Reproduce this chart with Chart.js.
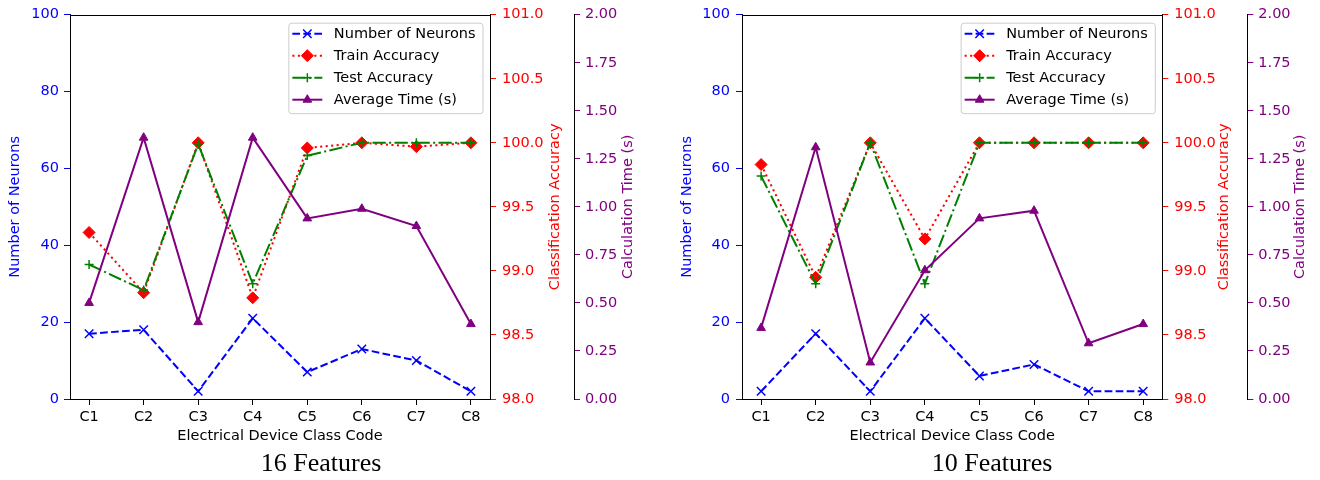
<!DOCTYPE html>
<html>
<head>
<meta charset="utf-8">
<script src="https://cdn.jsdelivr.net/npm/chart.js@4.4.1/dist/chart.umd.min.js"></script>
<style>
  html, body { margin: 0; padding: 0; background: #fff; }
  #wrap { position: relative; width: 1320px; height: 480px; overflow: hidden; }
  .panel { position: absolute; top: 0; width: 660px; height: 480px; }
  .caption { position: absolute; top: 450px; width: 200px; text-align: center;
             font: 26px/26px "Liberation Serif", "Times New Roman", serif; color: #000; }
</style>
</head>
<body>
<div id="wrap">
  <div class="panel" style="left:0"><canvas id="chart16" width="660" height="480"></canvas></div>
  <div class="panel" style="left:660px"><canvas id="chart10" width="660" height="480"></canvas></div>
  <div class="caption" style="left:221px">16 Features</div>
  <div class="caption" style="left:892px">10 Features</div>
</div>
<script>
// class codes on the x axis
const categories = ["C1", "C2", "C3", "C4", "C5", "C6", "C7", "C8"];

// 16 features panel
const neurons16 = [17, 18, 2, 21, 7, 13, 10, 2];
const trainAcc16 = [99.3, 98.83, 100, 98.79, 99.96, 100, 99.97, 100];
const testAcc16 = [99.05, 98.85, 99.99, 98.9, 99.9, 100, 100, 100];
const avgTime16 = [0.5, 1.36, 0.4, 1.36, 0.94, 0.99, 0.9, 0.39];

// 10 features panel
const neurons10 = [2, 17, 2, 21, 6, 9, 2, 2];
const trainAcc10 = [99.83, 98.95, 100, 99.25, 100, 100, 100, 100];
const testAcc10 = [99.74, 98.9, 100, 98.9, 100, 100, 100, 100];
const avgTime10 = [0.37, 1.31, 0.19, 0.67, 0.94, 0.98, 0.29, 0.39];

// axis ranges
const neuronRange = { min: 0, max: 100, step: 20 };
const accuracyRange = { min: 98, max: 101, step: 0.5 };
const timeRange = { min: 0, max: 2, step: 0.25 };

const FONT = '"DejaVu Sans", sans-serif';
Chart.defaults.font.family = FONT;
Chart.defaults.font.size = 14.5;

const toPoints = (values) => values.map((v, i) => ({ x: i, y: v }));

// top spine of the plot box
const topSpine = {
  id: "topSpine",
  afterDraw(chart) {
    const { ctx, chartArea } = chart;
    ctx.save();
    ctx.strokeStyle = "black";
    ctx.lineWidth = 1;
    const y = Math.round(chartArea.top) + 0.5;
    ctx.beginPath();
    ctx.moveTo(chartArea.left, y);
    ctx.lineTo(chartArea.right, y);
    ctx.stroke();
    ctx.restore();
  },
};

// right axis titles, read bottom to top like matplotlib
const sideTitles = {
  id: "sideTitles",
  afterDraw(chart, args, opts) {
    const { ctx, chartArea } = chart;
    (opts.items || []).forEach((t) => {
      const s = chart.scales[t.axis];
      ctx.save();
      ctx.translate(s.right - t.offset, (chartArea.top + chartArea.bottom) / 2);
      ctx.rotate(-Math.PI / 2);
      ctx.font = "14.5px " + FONT;
      ctx.fillStyle = t.color;
      ctx.textAlign = "center";
      ctx.textBaseline = "middle";
      ctx.fillText(t.text, 0, 0);
      ctx.restore();
    });
  },
};

// matplotlib style legend: line sample with marker in the middle
const lineLegend = {
  id: "lineLegend",
  afterDraw(chart) {
    const { ctx, chartArea } = chart;
    const sets = chart.data.datasets;
    ctx.save();
    ctx.font = "14.5px " + FONT;
    const textW = Math.max(...sets.map((d) => ctx.measureText(d.label).width));
    const rowH = 22;
    const boxW = 4 + 30 + 11.5 + textW + 7;
    const boxH = 11 + rowH * (sets.length - 1) + 13.5;
    const x0 = chartArea.right - 7.5 - boxW;
    const y0 = chartArea.top + 8;

    ctx.beginPath();
    ctx.roundRect(x0 + 0.5, y0 + 0.5, boxW, boxH, 3);
    ctx.fillStyle = "rgba(255,255,255,0.8)";
    ctx.fill();
    ctx.strokeStyle = "#cccccc";
    ctx.lineWidth = 1;
    ctx.stroke();

    sets.forEach((d, i) => {
      const y = y0 + 11 + i * rowH;
      ctx.strokeStyle = d.borderColor;
      ctx.lineWidth = d.borderWidth;
      ctx.setLineDash(d.borderDash);
      ctx.beginPath();
      ctx.moveTo(x0 + 4, y);
      ctx.lineTo(x0 + 34, y);
      ctx.stroke();
      ctx.setLineDash([]);
      ctx.fillStyle = d.pointBackgroundColor;
      ctx.strokeStyle = d.pointBorderColor;
      ctx.lineWidth = d.pointBorderWidth;
      Chart.helpers.drawPoint(ctx, {
        pointStyle: d.pointStyle,
        radius: d.pointRadius,
        borderWidth: d.pointBorderWidth,
        rotation: 0,
      }, x0 + 19, y);
      ctx.fillStyle = "#000";
      ctx.textBaseline = "middle";
      ctx.textAlign = "left";
      ctx.fillText(d.label, x0 + 45.5, y + 1);
    });
    ctx.restore();
  },
};

function buildChart(id, neurons, trainAcc, testAcc, avgTime, dims) {
  const ctx = document.getElementById(id);
  if (ctx == null) return;

  const datasets = [
    {
      label: "Number of Neurons",
      data: toPoints(neurons),
      yAxisID: "y",
      order: 3,
      borderColor: "#0000ff",
      borderWidth: 2,
      borderDash: [7.7, 3.3],
      pointStyle: "crossRot",
      pointRadius: 6,
      pointBorderWidth: 1.5,
      pointBorderColor: "#0000ff",
      pointBackgroundColor: "#0000ff",
    },
    {
      label: "Train Accuracy",
      data: toPoints(trainAcc),
      yAxisID: "y1",
      order: 2,
      borderColor: "#ff0000",
      borderWidth: 2,
      borderDash: [2.1, 3.4],
      pointStyle: "rectRot",
      pointRadius: 6,
      pointBorderWidth: 1,
      pointBorderColor: "#ff0000",
      pointBackgroundColor: "#ff0000",
    },
    {
      label: "Test Accuracy",
      data: toPoints(testAcc),
      yAxisID: "y1",
      order: 1,
      borderColor: "#008000",
      borderWidth: 2,
      borderDash: [13.3, 3.3, 2.1, 3.3],
      pointStyle: "cross",
      pointRadius: 4.5,
      pointBorderWidth: 1.5,
      pointBorderColor: "#008000",
      pointBackgroundColor: "#008000",
    },
    {
      label: "Average Time (s)",
      data: toPoints(avgTime),
      yAxisID: "y2",
      order: 0,
      borderColor: "#800080",
      borderWidth: 2,
      borderDash: [],
      pointStyle: "triangle",
      pointRadius: 5,
      pointBorderWidth: 1,
      pointBorderColor: "#800080",
      pointBackgroundColor: "#800080",
    },
  ];

  new Chart(ctx, {
    type: "line",
    data: { datasets },
    plugins: [topSpine, sideTitles, lineLegend],
    options: {
      responsive: false,
      animation: false,
      events: [],
      layout: { padding: { top: 12, right: dims.padRight, bottom: 0, left: 0 } },
      plugins: {
        legend: { display: false },
        tooltip: { enabled: false },
        sideTitles: {
          items: [
            { axis: "y1", text: "Classification Accuracy", color: "#ff0000", offset: dims.y1TitleOffset },
            { axis: "y2", text: "Calculation Time (s)", color: "#800080", offset: dims.y2TitleOffset },
          ],
        },
      },
      scales: {
        x: {
          type: "linear",
          min: -0.35,
          max: 7.35,
          afterBuildTicks: (s) => { s.ticks = categories.map((c, i) => ({ value: i })); },
          afterFit: (s) => { s.height = 81; },
          ticks: { callback: (v) => categories[v], color: "#000", padding: 4, maxRotation: 0, autoSkip: false },
          grid: { drawOnChartArea: false, tickLength: 6, color: "#000" },
          border: { color: "#000", width: 1 },
          title: { display: true, text: "Electrical Device Class Code", color: "#000", padding: { top: 0, bottom: 35 } },
        },
        y: {
          position: "left",
          min: neuronRange.min,
          max: neuronRange.max,
          afterFit: (s) => { s.width = dims.yWidth; },
          ticks: { stepSize: neuronRange.step, color: "#0000ff", padding: dims.yTickPad },
          grid: { drawOnChartArea: false, tickLength: 6, tickColor: "#0000ff" },
          border: { color: "#000", width: 1 },
          title: { display: true, text: "Number of Neurons", color: "#0000ff", padding: { top: dims.yTitlePad, bottom: 0 } },
        },
        y1: {
          position: "right",
          min: accuracyRange.min,
          max: accuracyRange.max,
          afterFit: (s) => { s.width = dims.y1Width; },
          ticks: { stepSize: accuracyRange.step, color: "#ff0000", padding: 6, callback: (v) => v.toFixed(1) },
          grid: { drawOnChartArea: false, tickLength: 6, tickColor: "#ff0000" },
          border: { color: "#000", width: 1 },
        },
        y2: {
          position: "right",
          min: timeRange.min,
          max: timeRange.max,
          afterFit: (s) => { s.width = dims.y2Width; },
          ticks: { stepSize: timeRange.step, color: "#800080", padding: 5, callback: (v) => v.toFixed(2) },
          grid: { drawOnChartArea: false, tickLength: 6, tickColor: "#800080" },
          border: { color: "#000", width: 1 },
        },
      },
    },
  });
}

buildChart("chart16", neurons16, trainAcc16, testAcc16, avgTime16, {
  yWidth: 70, yTickPad: 5, yTitlePad: 6.6,
  y1Width: 84, y1TitleOffset: 19,
  y2Width: 70, y2TitleOffset: 15.7,
  padRight: 16,
});

buildChart("chart10", neurons10, trainAcc10, testAcc10, avgTime10, {
  yWidth: 82, yTickPad: 6, yTitlePad: 18.3,
  y1Width: 85, y1TitleOffset: 23.3,
  y2Width: 68, y2TitleOffset: 15.3,
  padRight: 4.7,
});
</script>
</body>
</html>
